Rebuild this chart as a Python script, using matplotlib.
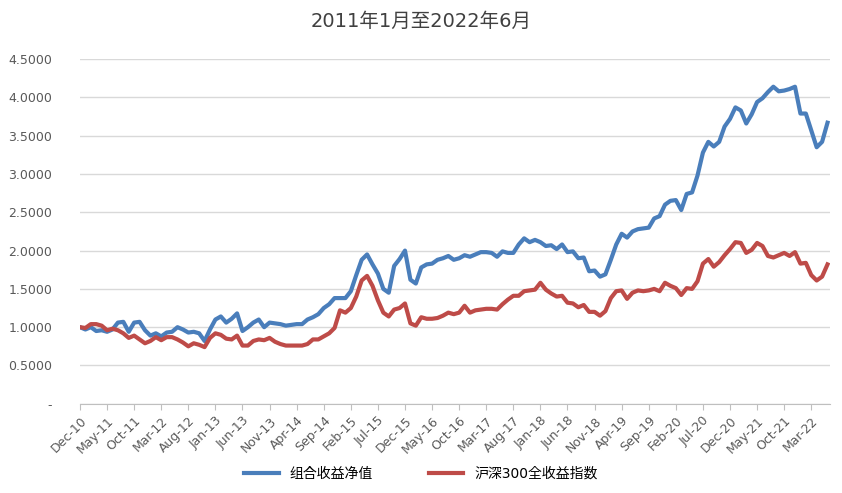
import matplotlib
matplotlib.use("Agg")
import matplotlib.pyplot as plt
from matplotlib.ticker import FuncFormatter
from matplotlib import font_manager

portfolio = [1.00,0.97,1.00,0.95,0.96,0.94,0.97,1.06,1.07,0.94,
             1.06,1.07,0.96,0.89,0.92,0.88,0.93,0.94,1.00,0.97,
             0.93,0.94,0.92,0.82,0.97,1.10,1.14,1.06,1.11,1.18,
             0.95,1.00,1.06,1.10,1.00,1.06,1.05,1.04,1.02,1.03,
             1.04,1.04,1.10,1.13,1.17,1.25,1.30,1.38,1.38,1.38,
             1.47,1.68,1.88,1.95,1.82,1.70,1.50,1.45,1.80,1.89,
             2.00,1.62,1.57,1.78,1.82,1.83,
             1.88,1.90,1.93,1.88,1.90,1.94,1.92,1.95,1.98,1.98,
             1.97,1.92,1.99,1.97,1.97,2.08,2.16,2.11,2.14,2.11,
             2.06,2.07,2.02,2.08,1.98,1.99,1.90,1.91,1.73,1.74,
             1.66,1.69,1.88,2.08,2.22,2.17,2.25,2.28,2.29,2.30,
             2.42,2.45,2.60,2.65,2.66,2.53,2.74,2.76,2.98,3.28,
             3.42,3.36,3.42,3.62,3.72,3.87,3.83,3.66,3.78,3.94,
             3.99,4.07,4.14,4.08,4.09,4.11,4.14,3.79,3.79,3.57,
             3.35,3.42,3.67]
csi300 = [1.00,0.99,1.04,1.04,1.02,0.96,0.98,0.96,0.92,0.86,
          0.89,0.84,0.79,0.82,0.87,0.83,0.87,0.87,0.84,0.80,
          0.75,0.79,0.77,0.74,0.86,0.92,0.90,0.85,0.84,0.89,
          0.76,0.76,0.82,0.84,0.83,0.86,0.81,0.78,0.76,0.76,
          0.76,0.76,0.78,0.84,0.84,0.88,0.92,0.99,1.22,1.19,
          1.25,1.40,1.61,1.67,1.54,1.35,1.19,1.14,1.23,1.25,
          1.31,1.05,1.02,1.13,1.11,1.11,
          1.12,1.15,1.19,1.17,1.19,1.28,1.19,1.22,1.23,1.24,
          1.24,1.23,1.30,1.36,1.41,1.41,1.47,1.48,1.49,1.58,
          1.49,1.44,1.40,1.41,1.32,1.31,1.26,1.29,1.20,1.20,
          1.15,1.21,1.38,1.47,1.48,1.37,1.45,1.48,1.47,1.48,
          1.50,1.47,1.58,1.54,1.51,1.42,1.51,1.50,1.60,1.83,
          1.89,1.79,1.85,1.94,2.02,2.11,2.10,1.97,2.01,2.10,
          2.06,1.93,1.91,1.94,1.97,1.93,1.98,1.83,1.84,1.68,
          1.61,1.66,1.82]

mon = ["Jan","Feb","Mar","Apr","May","Jun","Jul","Aug","Sep","Oct","Nov","Dec"]
n = len(portfolio)
month_labels = []
for k in range(n):
    m = (11 + k) % 12
    y = 10 + (11 + k) // 12
    month_labels.append(f"{mon[m]}-{y:02d}")
tick_pos = list(range(0, n, 5))
tick_labels = [month_labels[p] for p in tick_pos]
x = list(range(n))

names = {f.name for f in font_manager.fontManager.ttflist}
cjk = [f for f in ["Noto Sans CJK SC", "Noto Sans CJK JP", "Noto Sans CJK TC", "Noto Sans CJK KR"] if f in names]
if not cjk:
    cjk = [f.name for f in font_manager.fontManager.ttflist if "CJK" in f.name][:1]
plt.rcParams["font.family"] = ["DejaVu Sans"] + cjk

fig = plt.figure(figsize=(8.42, 4.93), dpi=100)
ax = fig.add_axes([0.095, 0.181, 0.891, 0.699])
ax.plot(x, portfolio, color="#4a7ebb", lw=3, label="组合收益净值")
ax.plot(x, csi300, color="#be4b48", lw=3, label="沪深300全收益指数")
ax.set_ylim(0, 4.5)
ax.set_xlim(0, n - 1 + 0.5)
ax.set_yticks([i * 0.5 for i in range(10)])
ax.yaxis.set_major_formatter(FuncFormatter(lambda v, p: "-" if v == 0 else f"{v:.4f}"))
ax.grid(axis="y", color="#d9d9d9", lw=1)
ax.set_axisbelow(True)
for s in ["top", "right", "left"]:
    ax.spines[s].set_visible(False)
ax.spines["bottom"].set_color("#bfbfbf")
ax.set_xticks(tick_pos)
ax.set_xticklabels(tick_labels, rotation=45, ha="right", rotation_mode="anchor", fontsize=9, color="#595959")
ax.tick_params(axis="y", length=0, labelsize=9, labelcolor="#595959", pad=20)
ax.tick_params(axis="x", length=4, color="#bfbfbf")
fig.suptitle("2011年1月至2022年6月", y=0.975, fontsize=14, color="#404040")
fig.legend(loc="lower center", ncol=2, frameon=False, bbox_to_anchor=(0.5, 0.0),
           prop={"size": 10}, columnspacing=4, handlelength=2.5)
fig.savefig("out.png")
